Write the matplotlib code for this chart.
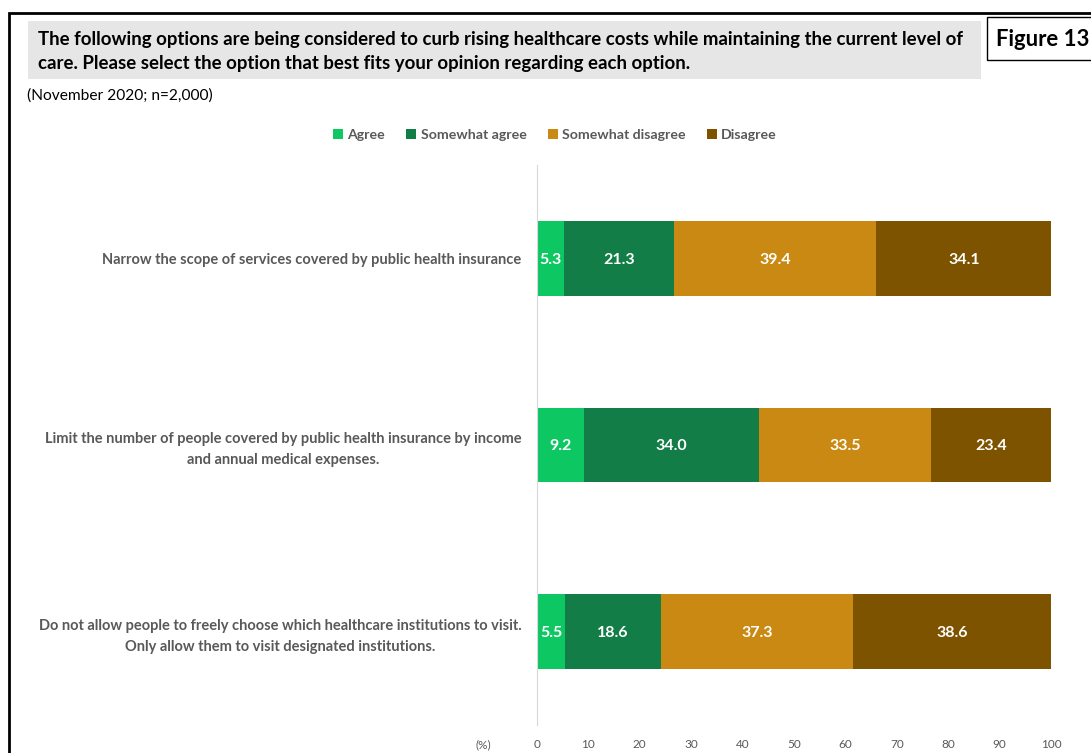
import numpy as np
import matplotlib.pyplot as plt
from matplotlib.patches import Rectangle

plt.rcParams['font.family'] = ['Lato', 'DejaVu Sans']

# Survey items (top to bottom) and answer shares in %
items = [
    "Narrow the scope of services covered by public health insurance",
    "Limit the number of people covered by public health insurance by income\nand annual medical expenses.",
    "Do not allow people to freely choose which healthcare institutions to visit.\nOnly allow them to visit designated institutions.",
]
answers = ["Agree", "Somewhat agree", "Somewhat disagree", "Disagree"]
agree = [5.3, 9.2, 5.5]
somewhat_agree = [21.3, 34.0, 18.6]
somewhat_disagree = [39.4, 33.5, 37.3]
disagree = [34.1, 23.4, 38.6]
colors = ["#0DC862", "#127D46", "#C98913", "#7E5300"]

series = [agree, somewhat_agree, somewhat_disagree, disagree]

fig = plt.figure(figsize=(10.91, 7.53), dpi=100)

# outer frame and title box
fig.add_artist(Rectangle((9 / 1091, -0.05), 1.2, 1 - 13 / 753 + 0.05, transform=fig.transFigure,
                         fill=False, edgecolor="black", linewidth=2))
fig.add_artist(Rectangle((28 / 1091, 1 - 79 / 753), 953 / 1091, 58 / 753, transform=fig.transFigure,
                         facecolor="#E6E6E6", edgecolor="none"))
fig.add_artist(Rectangle((987 / 1091, 1 - 60 / 753), 0.2, 43 / 753, transform=fig.transFigure,
                         facecolor="white", edgecolor="black", linewidth=1))
fig.text(38 / 1091, 1 - 39 / 753,
         "The following options are being considered to curb rising healthcare costs while maintaining the current level of",
         fontsize=13.4, fontweight="bold", va="center", ha="left")
fig.text(38 / 1091, 1 - 63 / 753,
         "care. Please select the option that best fits your opinion regarding each option.",
         fontsize=13.4, fontweight="bold", va="center", ha="left")
fig.text(996 / 1091, 1 - 39 / 753, "Figure 13", fontsize=15.9, fontweight="bold", va="center", ha="left")
fig.text(27 / 1091, 1 - 96 / 753, "(November 2020; n=2,000)", fontsize=11.2, va="center", ha="left")

ax = fig.add_axes([537 / 1091, 28 / 753, 514 / 1091, 560 / 753])

y = np.arange(len(items))
left = np.zeros(len(items))
for name, vals, c in zip(answers, series, colors):
    vals = np.array(vals)
    bars = ax.barh(y, vals, left=left, height=0.4, color=c, label=name)
    for b, v in zip(bars, vals):
        ax.text(b.get_x() + b.get_width() / 2, b.get_y() + b.get_height() / 2, f"{v:.1f}",
                ha="center", va="center_baseline", color="white", fontsize=11.5, fontweight="bold")
    left += vals

ax.set_xlim(0, 100)
ax.set_ylim(2.5, -0.5)
ax.set_xticks(np.arange(0, 101, 10))
ax.tick_params(axis="x", length=0, labelsize=8.5, labelcolor="#595959", pad=10)
ax.set_yticks(y)
ax.set_yticklabels(items, fontsize=10.5, color="#595959", fontweight="bold",
                   multialignment="center", linespacing=1.6)
ax.tick_params(axis="y", length=0, pad=11)
for s in ["top", "right", "bottom"]:
    ax.spines[s].set_visible(False)
ax.spines["left"].set_color("#D9D9D9")
ax.annotate("(%)", xy=(-10.5, 0), xycoords=("data", "axes fraction"), xytext=(0, -10),
            textcoords="offset points", fontsize=8.5, color="#595959", ha="center", va="top",
            annotation_clip=False)

fig.legend(loc="center", bbox_to_anchor=(555 / 1091, 1 - 135 / 753), ncol=4, frameon=False,
           handlelength=0.7, handleheight=0.7, handletextpad=0.3, columnspacing=1.5,
           labelcolor="#595959", prop={"weight": "bold", "size": 10.2})

fig.savefig("out.png", dpi=100)
